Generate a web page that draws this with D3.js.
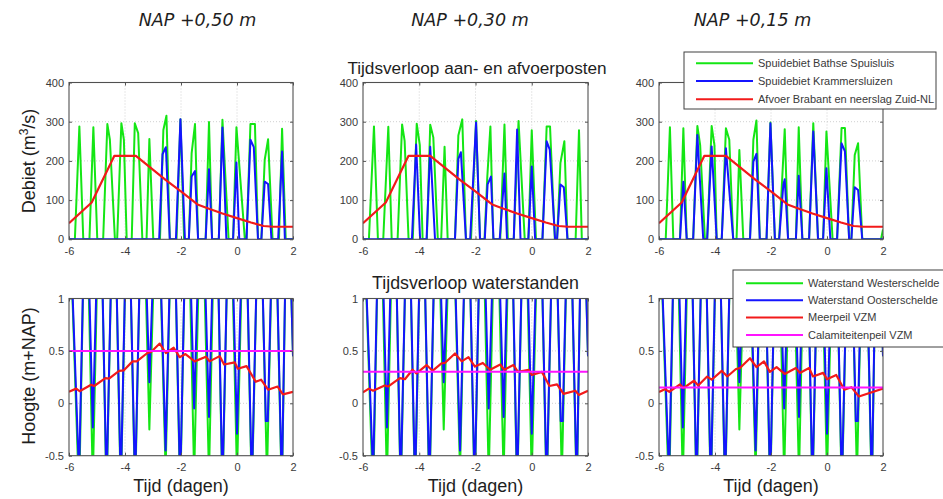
<!DOCTYPE html>
<html>
<head>
<meta charset="utf-8">
<script src="https://cdn.jsdelivr.net/npm/d3@7"></script>
<style>
  body { margin: 0; background: #fff; }
  svg { display: block; }
  text { font-family: "Liberation Sans", Arial, sans-serif; }
</style>
</head>
<body>
<svg id="chart" width="943" height="499"></svg>
<script>
// ---- Tick values and labels ----
const days = [-6, -4, -2, 0, 2];
const debietTicks = [0, 100, 200, 300, 400];
const hoogteTicks = [-0.5, 0, 0.5, 1];
const scenarios = ["NAP +0,50 m", "NAP +0,30 m", "NAP +0,15 m"];
const calamiteitenpeil = [0.5, 0.3, 0.15];

// ---- Discharge (m3/s) per scenario: [day, value] ----
const bathse050 = [[-6,0],
  [-5.79,0],[-5.63,288],[-5.49,0],
  [-5.27,0],[-5.13,286],[-4.99,0],
  [-4.78,0],[-4.63,294],[-4.54,254],[-4.36,0],
  [-4.28,0],[-4.13,296],[-4.04,254],[-3.94,0],
  [-3.76,0],[-3.65,296],[-3.53,271],[-3.38,0],
  [-3.23,0],[-3.13,256],[-2.99,0],
  [-2.75,0],[-2.63,279],[-2.52,315],[-2.40,0],
  [-2.16,0],[-2.02,306],[-1.89,0],
  [-1.72,0],[-1.62,220],[-1.50,294],[-1.39,0],
  [-1.12,0],[-1.00,299],[-0.89,0],
  [-0.65,0],[-0.52,305],[-0.30,0],
  [-0.14,0],[-0.02,286],[0.28,0],
  [0.34,0],[0.48,294],[0.64,294],[0.75,0],
  [0.87,0],[0.99,203],[1.11,255],[1.27,0],
  [1.50,0],[1.61,282],[1.74,0],
  [2,0]];
const krammer050 = [[-6,0],
  [-2.78,0],[-2.66,217],[-2.54,235],[-2.40,0],
  [-2.18,0],[-2.02,306],[-1.86,0],
  [-1.72,0],[-1.62,160],[-1.50,174],[-1.39,0],
  [-1.12,0],[-1.00,179],[-0.89,0],
  [-0.65,0],[-0.52,285],[-0.38,0],
  [-0.14,0],[-0.02,196],[0.08,0],
  [0.34,0],[0.48,254],[0.60,235],[0.75,0],
  [0.87,0],[0.99,147],[1.11,141],[1.23,0],
  [1.47,0],[1.61,224],[1.71,0],
  [2,0]];
const bathse030 = [[-6,0],
  [-5.79,0],[-5.61,288],[-5.47,0],
  [-5.28,0],[-5.10,287],[-4.98,0],
  [-4.77,0],[-4.61,293],[-4.52,251],[-4.38,0],
  [-4.23,0],[-4.09,295],[-3.98,240],[-3.88,0],
  [-3.73,0],[-3.61,292],[-3.50,260],[-3.34,0],
  [-3.22,0],[-3.10,236],[-2.99,0],
  [-2.73,0],[-2.61,265],[-2.47,306],[-2.34,0],
  [-2.16,0],[-1.98,302],[-1.84,0],
  [-1.68,0],[-1.58,160],[-1.47,288],[-1.37,0],
  [-1.12,0],[-0.97,293],[-0.85,0],
  [-0.64,0],[-0.47,302],[-0.25,0],
  [-0.12,0],[0.00,278],[0.15,0],
  [0.38,0],[0.53,288],[0.65,288],[0.82,0],
  [0.90,0],[1.02,195],[1.16,250],[1.27,0],
  [1.56,0],[1.68,278],[1.78,0],
  [2,0]];
const krammer030 = [[-6,0],
  [-4.26,0],[-4.11,242],[-3.97,0],
  [-3.74,0],[-3.61,236],[-3.44,0],
  [-2.73,0],[-2.61,205],[-2.52,222],[-2.34,0],
  [-2.19,0],[-1.98,298],[-1.84,0],
  [-1.67,0],[-1.57,140],[-1.45,160],[-1.36,0],
  [-1.14,0],[-0.97,168],[-0.88,0],
  [-0.64,0],[-0.52,280],[-0.40,0],
  [-0.12,0],[0.00,186],[0.12,0],
  [0.38,0],[0.53,250],[0.64,229],[0.83,0],
  [0.90,0],[1.02,140],[1.14,133],[1.27,0],
  [2,0]];
const bathse015 = [[-6,0],
  [-5.76,0],[-5.61,286],[-5.49,0],
  [-5.25,0],[-5.13,283],[-5.01,0],
  [-4.78,0],[-4.63,289],[-4.53,240],[-4.36,0],
  [-4.28,0],[-4.12,289],[-4.02,240],[-3.94,0],
  [-3.76,0],[-3.61,283],[-3.49,254],[-3.35,0],
  [-3.23,0],[-3.13,228],[-2.99,0],
  [-2.75,0],[-2.63,254],[-2.52,303],[-2.40,0],
  [-2.16,0],[-2.02,298],[-1.86,0],
  [-1.71,0],[-1.51,281],[-1.39,0],
  [-1.11,0],[-1.01,286],[-0.88,0],
  [-0.64,0],[-0.49,296],[-0.32,0],
  [-0.14,0],[-0.02,275],[0.20,0],
  [0.36,0],[0.52,284],[0.64,284],[0.79,0],
  [0.87,0],[0.99,215],[1.11,245],[1.26,0],
  [1.93,0],[2.0,25]];
const krammer015 = [[-6,0],
  [-5.25,0],[-5.13,147],[-5.01,0],
  [-4.78,0],[-4.63,266],[-4.42,0],
  [-4.28,0],[-4.12,237],[-3.94,0],
  [-3.76,0],[-3.61,232],[-3.35,0],
  [-2.75,0],[-2.63,198],[-2.52,218],[-2.40,0],
  [-2.16,0],[-2.02,296],[-1.86,0],
  [-1.71,0],[-1.56,139],[-1.51,153],[-1.39,0],
  [-1.11,0],[-1.01,162],[-0.88,0],
  [-0.64,0],[-0.49,275],[-0.32,0],
  [-0.14,0],[-0.02,181],[0.12,0],
  [0.36,0],[0.52,245],[0.64,224],[0.79,0],
  [0.87,0],[0.99,133],[1.11,126],[1.26,0],
  [2,0]];
const afvoer = [[-6,41],[-5.19,94],[-4.38,213],[-3.61,213],[-2.54,151],[-1.98,121],
  [-1.41,89],[-1.00,78],[-0.52,66],[0,54],[0.5,43],[0.95,34],[1.3,32],[2,32]];

// ---- Water levels (m+NAP): [day, level] ----
const westerschelde = [[-6,2.0],
  [-5.64,-0.9],[-5.40,2.4],[-5.15,-0.75],[-4.90,2.4],[-4.66,-0.9],[-4.40,2.4],
  [-4.15,-0.9],[-3.90,2.4],[-3.64,-0.9],[-3.38,2.4],[-3.13,-0.25],[-2.85,2.4],
  [-2.55,-0.65],[-2.29,2.4],[-2.03,-0.9],[-1.78,2.4],[-1.53,-0.7],[-1.27,2.4],
  [-1.00,-0.7],[-0.76,2.4],[-0.52,-0.9],[-0.26,2.4],[0.00,-0.7],[0.27,2.4],
  [0.53,-0.9],[0.80,2.4],[1.07,-0.7],[1.33,2.4],[1.60,-0.9],[1.80,2.4],[2.0,0.45]];
const oosterschelde = [[-6,2.0],
  [-5.64,-0.7],[-5.40,2.4],[-5.15,-0.23],[-4.90,2.4],[-4.66,-0.8],[-4.40,2.4],
  [-4.15,-0.8],[-3.90,2.4],[-3.64,-0.8],[-3.38,2.4],[-3.13,0.2],[-2.85,2.4],
  [-2.55,-0.45],[-2.29,2.4],[-2.03,-0.8],[-1.78,2.4],[-1.53,-0.05],[-1.27,2.4],
  [-1.00,-0.13],[-0.76,2.4],[-0.52,-0.8],[-0.26,2.4],[0.00,-0.29],[0.27,2.4],
  [0.53,-0.8],[0.80,2.4],[1.03,-0.17],[1.10,-0.17],[1.33,2.4],[1.60,-0.8],[1.80,2.4],[2.0,0.45]];
const meerpeil050 = [[-6.00,0.11],[-5.74,0.14],[-5.62,0.115],[-5.21,0.177],[-5.10,0.165],
  [-4.70,0.24],[-4.57,0.235],[-4.21,0.31],[-4.04,0.315],[-3.73,0.40],[-3.58,0.40],
  [-3.20,0.48],[-3.07,0.49],[-2.76,0.57],[-2.54,0.48],[-2.26,0.53],[-2.05,0.44],
  [-1.84,0.47],[-1.51,0.40],[-1.11,0.445],[-0.98,0.40],[-0.62,0.45],[-0.46,0.37],
  [-0.08,0.39],[0.03,0.33],[0.34,0.355],[0.67,0.205],[0.86,0.225],[1.11,0.13],
  [1.45,0.16],[1.64,0.085],[2.00,0.11]];
const meerpeil030 = [[-6,0.104],[-5.79,0.14],[-5.64,0.12],[-5.23,0.17],[-5.11,0.16],
  [-4.69,0.24],[-4.51,0.23],[-4.24,0.32],[-4.10,0.285],[-3.74,0.365],[-3.53,0.31],
  [-3.21,0.38],[-3.09,0.385],[-2.73,0.475],[-2.49,0.40],[-2.25,0.44],[-2.02,0.35],
  [-1.74,0.385],[-1.48,0.32],[-1.12,0.37],[-0.98,0.32],[-0.65,0.365],[-0.49,0.30],
  [-0.11,0.32],[0.00,0.27],[0.36,0.30],[0.63,0.165],[0.90,0.18],[1.13,0.09],
  [1.55,0.12],[1.67,0.08],[2.0,0.12]];
const meerpeil015 = [[-6,0.107],[-5.79,0.135],[-5.63,0.11],[-5.25,0.18],[-5.13,0.145],
  [-4.75,0.215],[-4.60,0.17],[-4.28,0.255],[-4.12,0.225],[-3.76,0.31],[-3.56,0.256],
  [-3.25,0.327],[-3.11,0.336],[-2.75,0.43],[-2.52,0.346],[-2.25,0.40],[-2.04,0.30],
  [-1.80,0.346],[-1.51,0.28],[-1.11,0.336],[-0.97,0.29],[-0.64,0.336],[-0.50,0.256],
  [-0.14,0.29],[0.00,0.23],[0.33,0.27],[0.62,0.13],[0.87,0.154],[1.14,0.065],[2.0,0.14]];

// ---- Layout ----
const GREEN = "#14e614", BLUE = "#1414ff", RED = "#f21a1a", MAGENTA = "#ff14ff";
const TXT = "#3a3a3a";
const colX = [[69, 293], [363, 588], [659, 883]];
const rowDebiet = [82.5, 239.3];
const rowHoogte = [298.5, 455.7];

const svg = d3.select("#chart");
svg.append("rect").attr("width", 943).attr("height", 499).attr("fill", "#fff");

const debietSets = [
  [bathse050, krammer050], [bathse030, krammer030], [bathse015, krammer015]
];
const meerpeilSets = [meerpeil050, meerpeil030, meerpeil015];

function drawPanel(id, xr, yr, yDomain, yTicks, series) {
  const x = d3.scaleLinear().domain([-6, 2]).range(xr);
  const y = d3.scaleLinear().domain(yDomain).range([yr[1], yr[0]]);
  const g = svg.append("g");

  g.append("clipPath").attr("id", id)
    .append("rect").attr("x", xr[0]).attr("y", yr[0])
    .attr("width", xr[1] - xr[0]).attr("height", yr[1] - yr[0]);

  // dotted grid at inner ticks
  const grid = g.append("g").attr("stroke", "#c4c4c4").attr("stroke-width", 0.8)
    .attr("stroke-dasharray", "1,2");
  days.slice(1, -1).forEach(d => grid.append("line")
    .attr("x1", x(d)).attr("x2", x(d)).attr("y1", yr[0]).attr("y2", yr[1]));
  yTicks.slice(1, -1).forEach(d => grid.append("line")
    .attr("x1", xr[0]).attr("x2", xr[1]).attr("y1", y(d)).attr("y2", y(d)));

  // data
  const line = d3.line().x(d => x(d[0])).y(d => y(d[1]));
  const plot = g.append("g").attr("clip-path", `url(#${id})`);
  series.forEach(s => {
    plot.append("path").datum(s.data).attr("d", line)
      .attr("fill", "none").attr("stroke", s.color)
      .attr("stroke-width", s.width || 2).attr("stroke-linejoin", "round");
  });

  // axes with inward ticks
  const fmt = d => String(d);
  const axB = g.append("g").attr("transform", `translate(0,${yr[1]})`)
    .call(d3.axisBottom(x).tickValues(days).tickSize(-3).tickPadding(8).tickFormat(fmt));
  const axL = g.append("g").attr("transform", `translate(${xr[0]},0)`)
    .call(d3.axisLeft(y).tickValues(yTicks).tickSize(-3).tickPadding(5).tickFormat(fmt));
  const axT = g.append("g").attr("transform", `translate(0,${yr[0]})`)
    .call(d3.axisTop(x).tickValues(days).tickSize(-3).tickFormat(""));
  const axR = g.append("g").attr("transform", `translate(${xr[1]},0)`)
    .call(d3.axisRight(y).tickValues(yTicks).tickSize(-3).tickFormat(""));
  [axB, axL, axT, axR].forEach(a => {
    a.select(".domain").remove();
    a.selectAll(".tick line").attr("stroke", "#555");
    a.selectAll("text").attr("fill", TXT).attr("font-size", 11)
      .attr("font-family", "'Liberation Sans', Arial, sans-serif");
  });

  g.append("rect").attr("x", xr[0]).attr("y", yr[0])
    .attr("width", xr[1] - xr[0]).attr("height", yr[1] - yr[0])
    .attr("fill", "none").attr("stroke", "#505050").attr("stroke-width", 1.1);
}

colX.forEach((xr, i) => {
  drawPanel("clipQ" + i, xr, rowDebiet, [0, 400], debietTicks, [
    { data: debietSets[i][0], color: GREEN },
    { data: debietSets[i][1], color: BLUE },
    { data: afvoer, color: RED, width: 2.2 }
  ]);
  drawPanel("clipH" + i, xr, rowHoogte, [-0.5, 1], hoogteTicks, [
    { data: westerschelde, color: GREEN },
    { data: oosterschelde, color: BLUE },
    { data: meerpeilSets[i], color: RED, width: 2.2 },
    { data: [[-6, calamiteitenpeil[i]], [2, calamiteitenpeil[i]]], color: MAGENTA }
  ]);
});

// ---- Scenario headers ----
const headerX = [197.5, 470, 752.5];
scenarios.forEach((s, i) => {
  svg.append("text").attr("x", headerX[i]).attr("y", 26)
    .attr("text-anchor", "middle").attr("font-size", 17.5)
    .attr("font-style", "italic").attr("fill", "#1e1e1e")
    .style("font-family", "'DejaVu Sans', Verdana, sans-serif")
    .text(s);
});

// ---- Panel titles ----
svg.append("text").attr("x", 477).attr("y", 73.5).attr("text-anchor", "middle")
  .attr("font-size", 17.2).attr("fill", "#1e1e1e").text("Tijdsverloop aan- en afvoerposten");
svg.append("text").attr("x", 475.5).attr("y", 289).attr("text-anchor", "middle")
  .attr("font-size", 17.8).attr("fill", "#1e1e1e").text("Tijdsverloop waterstanden");

// ---- Axis titles ----
const yq = svg.append("text").attr("transform", "translate(35,161) rotate(-90)")
  .attr("text-anchor", "middle").attr("font-size", 18).attr("fill", "#1e1e1e");
yq.append("tspan").text("Debiet (m");
yq.append("tspan").attr("dy", -7).attr("font-size", 12).text("3");
yq.append("tspan").attr("dy", 7).text("/s)");
svg.append("text").attr("transform", "translate(34.5,376) rotate(-90)")
  .attr("text-anchor", "middle").attr("font-size", 18).attr("fill", "#1e1e1e")
  .text("Hoogte (m+NAP)");
colX.forEach(xr => {
  svg.append("text").attr("x", (xr[0] + xr[1]) / 2).attr("y", 492)
    .attr("text-anchor", "middle").attr("font-size", 18).attr("fill", "#1e1e1e")
    .text("Tijd (dagen)");
});

// ---- Legends ----
function legend(x0, y0, w, h, lineX, textX, rows, items) {
  const g = svg.append("g");
  g.append("rect").attr("x", x0).attr("y", y0).attr("width", w).attr("height", h)
    .attr("fill", "#fff").attr("stroke", "#404040").attr("stroke-width", 1);
  items.forEach((it, k) => {
    g.append("line").attr("x1", lineX[0]).attr("x2", lineX[1])
      .attr("y1", rows[k]).attr("y2", rows[k])
      .attr("stroke", it.color).attr("stroke-width", 2);
    g.append("text").attr("x", textX).attr("y", rows[k]).attr("dy", "0.35em")
      .attr("font-size", 11).attr("fill", TXT).text(it.label);
  });
}
legend(684, 52, 252, 57, [696, 753], 758, [63.3, 81, 99.3], [
  { color: GREEN, label: "Spuidebiet Bathse Spuisluis" },
  { color: BLUE, label: "Spuidebiet Krammersluizen" },
  { color: RED, label: "Afvoer Brabant en neerslag Zuid-NL" }
]);
legend(733, 270, 240, 77, [746, 803], 808, [283.3, 300.3, 317.5, 335], [
  { color: GREEN, label: "Waterstand Westerschelde" },
  { color: BLUE, label: "Waterstand Oosterschelde" },
  { color: RED, label: "Meerpeil VZM" },
  { color: MAGENTA, label: "Calamiteitenpeil VZM" }
]);
</script>
</body>
</html>
